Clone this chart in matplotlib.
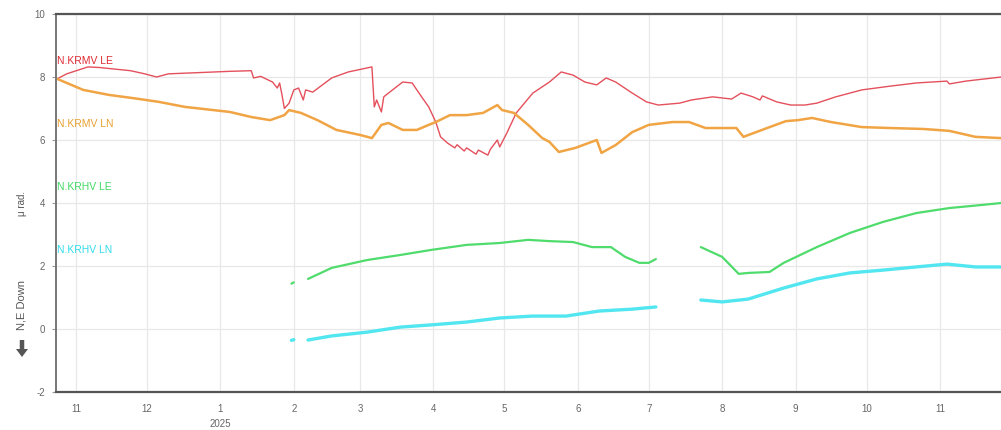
import matplotlib
matplotlib.use('Agg')
import matplotlib.pyplot as plt
import matplotlib.dates as mdates
from matplotlib.patches import FancyArrow
import pandas as pd

plt.rcParams['font.family'] = ['Liberation Sans', 'DejaVu Sans']

nan = float('nan')

# N.KRMV LE (red)
red_dates = ["2024-10-24", "2024-10-28", "2024-11-06", "2024-11-11", "2024-11-24", "2024-11-30",
             "2024-12-05", "2024-12-10", "2025-01-05", "2025-01-14", "2025-01-15", "2025-01-18",
             "2025-01-23", "2025-01-25", "2025-01-26", "2025-01-27", "2025-01-28", "2025-01-30",
             "2025-02-01", "2025-02-03", "2025-02-05", "2025-02-06", "2025-02-09", "2025-02-17",
             "2025-02-24", "2025-03-06", "2025-03-07", "2025-03-08", "2025-03-10", "2025-03-11",
             "2025-03-13", "2025-03-19", "2025-03-23", "2025-03-27", "2025-03-30", "2025-04-02",
             "2025-04-04", "2025-04-07", "2025-04-10", "2025-04-11", "2025-04-14", "2025-04-15",
             "2025-04-19", "2025-04-20", "2025-04-24", "2025-04-25",
             "2025-04-28", "2025-04-29", "2025-05-02", "2025-05-06", "2025-05-13", "2025-05-20",
             "2025-05-25", "2025-05-30", "2025-06-04", "2025-06-09", "2025-06-13", "2025-06-17",
             "2025-06-24", "2025-06-30", "2025-07-05", "2025-07-14", "2025-07-19", "2025-07-28",
             "2025-08-05", "2025-08-09", "2025-08-14", "2025-08-17", "2025-08-18", "2025-08-24",
             "2025-08-30", "2025-09-05", "2025-09-10", "2025-09-18", "2025-09-29", "2025-10-11",
             "2025-10-22", "2025-11-04", "2025-11-05", "2025-11-12", "2025-11-27"]
red_vals = [7.94, 8.10, 8.32, 8.30, 8.20, 8.10,
            8.00, 8.10, 8.18, 8.20, 7.97, 8.02,
            7.84, 7.65, 7.81, 7.43, 7.00, 7.17,
            7.59, 7.65, 7.27, 7.59, 7.52, 7.97,
            8.16, 8.32, 7.05, 7.27, 6.89, 7.37,
            7.49, 7.84, 7.81, 7.37, 7.05, 6.57,
            6.10, 5.90, 5.75, 5.85, 5.65, 5.75,
            5.55, 5.68, 5.52, 5.70,
            6.00, 5.78, 6.22, 6.86, 7.49, 7.84,
            8.16, 8.06, 7.84, 7.75, 7.97, 7.84,
            7.49, 7.21, 7.11, 7.17, 7.27, 7.37,
            7.30, 7.49, 7.37, 7.27, 7.40, 7.21,
            7.11, 7.11, 7.17, 7.37, 7.59, 7.71,
            7.81, 7.87, 7.78, 7.87, 8.00]

# N.KRMV LN (orange)
orange_dates = ["2024-10-24", "2024-11-04", "2024-11-15", "2024-11-25", "2024-12-06", "2024-12-17",
                "2024-12-23", "2025-01-05", "2025-01-14", "2025-01-22", "2025-01-28", "2025-01-30",
                "2025-02-04", "2025-02-11", "2025-02-19", "2025-03-01", "2025-03-06", "2025-03-10",
                "2025-03-13", "2025-03-19", "2025-03-25", "2025-03-30", "2025-04-02", "2025-04-08",
                "2025-04-15", "2025-04-22", "2025-04-28", "2025-04-30", "2025-05-05", "2025-05-11",
                "2025-05-17", "2025-05-20", "2025-05-24", "2025-05-31", "2025-06-09", "2025-06-11",
                "2025-06-17", "2025-06-24", "2025-07-01", "2025-07-11", "2025-07-18", "2025-07-25",
                "2025-08-07", "2025-08-10", "2025-08-20", "2025-08-28", "2025-09-02", "2025-09-08",
                "2025-09-16", "2025-09-29", "2025-10-11", "2025-10-25", "2025-11-05", "2025-11-16",
                "2025-11-27"]
orange_vals = [7.94, 7.59, 7.43, 7.33, 7.21, 7.05,
               7.00, 6.89, 6.73, 6.63, 6.79, 6.95,
               6.86, 6.63, 6.32, 6.16, 6.06, 6.48,
               6.54, 6.32, 6.32, 6.48, 6.57, 6.79,
               6.79, 6.86, 7.11, 6.95, 6.86, 6.48,
               6.06, 5.94, 5.62, 5.75, 6.00, 5.59,
               5.84, 6.25, 6.48, 6.57, 6.57, 6.38,
               6.38, 6.10, 6.38, 6.60, 6.63, 6.70,
               6.57, 6.41, 6.38, 6.35, 6.29, 6.10,
               6.06]

# N.KRHV LE (green)
green_dates = ["2025-01-31", "2025-02-01", "2025-02-04",
               "2025-02-07", "2025-02-17", "2025-03-04", "2025-03-18", "2025-03-31", "2025-04-15",
               "2025-04-29", "2025-05-11", "2025-05-20", "2025-05-30", "2025-06-07", "2025-06-15",
               "2025-06-21", "2025-06-27", "2025-07-01", "2025-07-04", "2025-07-12",
               "2025-07-23", "2025-08-01", "2025-08-08", "2025-08-12", "2025-08-21", "2025-08-27",
               "2025-09-10", "2025-09-24", "2025-10-08", "2025-10-22", "2025-11-05", "2025-11-19",
               "2025-11-27"]
green_vals = [1.44, 1.48, nan,
              1.59, 1.94, 2.19, 2.35, 2.51, 2.67,
              2.73, 2.83, 2.79, 2.76, 2.60, 2.60,
              2.29, 2.10, 2.10, 2.22, nan,
              2.60, 2.29, 1.75, 1.78, 1.81, 2.10,
              2.60, 3.05, 3.40, 3.68, 3.84, 3.94,
              4.00]

# N.KRHV LN (cyan)
cyan_dates = ["2025-01-31", "2025-02-01", "2025-02-04",
              "2025-02-07", "2025-02-17", "2025-03-04", "2025-03-18", "2025-03-31", "2025-04-15",
              "2025-04-29", "2025-05-13", "2025-05-27", "2025-06-10", "2025-06-24", "2025-07-04",
              "2025-07-12",
              "2025-07-23", "2025-08-01", "2025-08-12", "2025-08-27", "2025-09-10", "2025-09-24",
              "2025-10-08", "2025-10-22", "2025-11-04", "2025-11-16", "2025-11-27"]
cyan_vals = [-0.36, -0.34, nan,
             -0.35, -0.22, -0.10, 0.06, 0.13, 0.22,
             0.35, 0.41, 0.41, 0.57, 0.63, 0.70,
             nan,
             0.92, 0.86, 0.95, 1.30, 1.59, 1.78,
             1.87, 1.97, 2.06, 1.97, 1.97]

series_names = ["N.KRMV LE", "N.KRMV LN", "N.KRHV LE", "N.KRHV LN"]
label_y = [8.5, 6.5, 4.5, 2.5]
yticks = [-2, 0, 2, 4, 6, 8, 10]

line_colors = ["#e4505c", "#f0a444", "#4fdc6c", "#52e6f0"]
label_colors = ["#e02a32", "#e8a030", "#3ed862", "#30dcec"]
line_widths = [1.0, 1.8, 1.6, 2.4]

fig = plt.figure(figsize=(10.01, 4.30), dpi=100)
ax = fig.add_axes([56 / 1001, 1 - 392 / 430, 1 - 56 / 1001, (392 - 14) / 430])

data = [(red_dates, red_vals), (orange_dates, orange_vals),
        (green_dates, green_vals), (cyan_dates, cyan_vals)]
for (d, v), c, lw in zip(data, line_colors, line_widths):
    ax.plot(pd.to_datetime(d), v, color=c, lw=lw, solid_joinstyle='round', solid_capstyle='round')

ax.set_ylim(-2, 10)
ax.set_xlim(pd.Timestamp("2024-10-23 12:00"), pd.Timestamp("2025-11-26 20:00"))
ax.set_yticks(yticks)
ax.set_yticklabels([str(t) for t in yticks])
ax.xaxis.set_major_locator(mdates.MonthLocator())
ax.xaxis.set_major_formatter(mdates.DateFormatter('%-m'))

ax.grid(True, color="#e8e8e8", lw=0.9)
ax.set_axisbelow(True)
ax.spines['right'].set_visible(False)
ax.spines['top'].set_color('#555555')
ax.spines['top'].set_linewidth(1.6)
ax.spines['bottom'].set_color('#555555')
ax.spines['bottom'].set_linewidth(1.6)
ax.spines['left'].set_color('#777777')
ax.spines['left'].set_linewidth(1.4)

ax.tick_params(axis='y', length=3, width=0.8, color='#999999', labelsize=7, labelcolor='#666666', pad=5)
ax.tick_params(axis='x', length=0, labelsize=7, labelcolor='#666666', pad=9)

for name, yv, c in zip(series_names, label_y, label_colors):
    ax.text(0.001, yv, name, transform=ax.get_yaxis_transform(), color=c,
            fontsize=7.5, va='center', ha='left')

ax.text(pd.Timestamp("2025-01-01"), -0.085, "2025", transform=ax.get_xaxis_transform(),
        ha='center', va='center', fontsize=7, color='#666666')

fig.text(22 / 1001, 1 - 203 / 430, "μ rad.", rotation=90, ha='center', va='center',
         fontsize=7, color='#555555')
fig.text(22 / 1001, 1 - 305 / 430, "N,E Down", rotation=90, ha='center', va='center',
         fontsize=8, color='#555555')
fig.add_artist(FancyArrow(0.22, 0.90, 0, -0.17, width=0.045, head_width=0.12, head_length=0.08,
                          length_includes_head=True, transform=fig.dpi_scale_trans,
                          color='#555555', lw=0))

fig.savefig("out.png", dpi=100, facecolor='white')
